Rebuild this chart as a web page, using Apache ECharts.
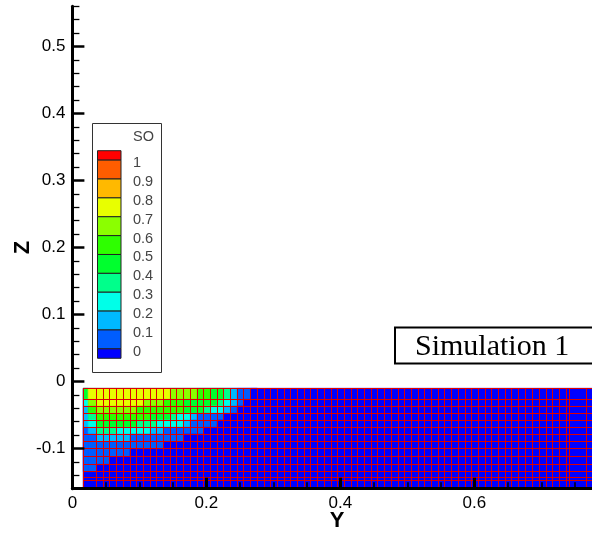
<!DOCTYPE html>
<html>
<head>
<meta charset="utf-8">
<script src="https://cdn.jsdelivr.net/npm/echarts@6/dist/echarts.min.js"></script>
<style>
  html, body { margin: 0; padding: 0; background: #ffffff; }
  #chart { width: 592px; height: 537px; }
</style>
</head>
<body>
<div id="chart"></div>
<script>
// Contour levels of SO and the colour of each band (below 0, 0-0.1, ..., above 1)
const soLevels = [0, 0.1, 0.2, 0.3, 0.4, 0.5, 0.6, 0.7, 0.8, 0.9, 1];
const bandColors = ['#0000FF', '#005DFF', '#00B9FF', '#00FFE8', '#00FF8B', '#00FF2E',
                    '#2EFF00', '#8BFF00', '#E8FF00', '#FFB900', '#FF5D00', '#FF0000'];

// Axis ticks
const yMajorTicks = [0, 0.2, 0.4, 0.6];
const yMinorTicks = [0.05, 0.1, 0.15, 0.25, 0.3, 0.35, 0.45, 0.5, 0.55, 0.65, 0.7, 0.75];
const zMajorTicks = [-0.1, 0, 0.1, 0.2, 0.3, 0.4, 0.5];
const zMinorTicks = [-0.14, -0.12, -0.08, -0.06, -0.04, -0.02, 0.02, 0.04, 0.06, 0.08,
                     0.12, 0.14, 0.16, 0.18, 0.22, 0.24, 0.26, 0.28, 0.32, 0.34, 0.36, 0.38,
                     0.42, 0.44, 0.46, 0.48, 0.52, 0.54, 0.56];

// Computational domain
const domainY = [0.016, 0.8];
const domainZ = [-0.16, -0.0101];

// Mesh lines
const meshY = [0.016, 0.036, 0.046, 0.056, 0.066, 0.076, 0.086, 0.096, 0.106, 0.116, 0.126,
  0.136, 0.146, 0.156, 0.166, 0.176, 0.186, 0.196, 0.206, 0.216, 0.226, 0.236, 0.246, 0.256,
  0.266, 0.276, 0.286, 0.296, 0.306, 0.316, 0.326, 0.336, 0.346, 0.356, 0.366, 0.376, 0.386,
  0.396, 0.406, 0.416, 0.426, 0.436, 0.446, 0.456, 0.466, 0.476, 0.486, 0.496, 0.506, 0.516,
  0.526, 0.536, 0.546, 0.556, 0.566, 0.576, 0.586, 0.596, 0.606, 0.616, 0.626, 0.636, 0.646,
  0.656, 0.666, 0.677, 0.687, 0.697, 0.707, 0.717, 0.727, 0.737, 0.742, 0.767, 0.792];
const meshZ = [-0.0101, -0.0266, -0.0366, -0.0475, -0.0575, -0.0684, -0.0784, -0.0896,
  -0.1007, -0.1122, -0.1236, -0.1346, -0.143, -0.148];

// SO field in the cells near the upper-left corner (rest of the domain is 0)
const cellY = [0.016, 0.0235, 0.036, 0.046, 0.056, 0.066, 0.076, 0.086, 0.096, 0.106, 0.116,
  0.126, 0.136, 0.146, 0.156, 0.166, 0.176, 0.186, 0.196, 0.206, 0.216, 0.226, 0.236, 0.246,
  0.256, 0.266, 0.276];
const cellZ = [-0.0101, -0.0266, -0.0366, -0.0475, -0.0575, -0.0684, -0.0784, -0.0896,
  -0.1007, -0.1122, -0.1236, -0.1346];
const soRows = [
  [0.45, 0.72, 0.75, 0.75, 0.75, 0.75, 0.75, 0.75, 0.75, 0.75, 0.75, 0.75, 0.75, 0.65, 0.65, 0.65, 0.65, 0.55, 0.55, 0.45, 0.45, 0.35, 0.15, 0.05, 0.05, 0],
  [0.25, 0.62, 0.72, 0.72, 0.72, 0.72, 0.72, 0.72, 0.72, 0.65, 0.65, 0.65, 0.55, 0.55, 0.55, 0.45, 0.45, 0.45, 0.45, 0.45, 0.35, 0.25, 0.15, 0.05, 0, 0],
  [0.15, 0.52, 0.65, 0.65, 0.65, 0.65, 0.65, 0.65, 0.55, 0.55, 0.55, 0.55, 0.55, 0.55, 0.55, 0.45, 0.45, 0.42, 0.35, 0.25, 0.25, 0.15, 0.05, 0, 0, 0],
  [0.15, 0.35, 0.55, 0.55, 0.55, 0.55, 0.55, 0.55, 0.55, 0.55, 0.45, 0.45, 0.45, 0.35, 0.25, 0.25, 0.15, 0.08, 0.05, 0.05, 0.05, 0, 0, 0, 0, 0],
  [0.15, 0.25, 0.45, 0.45, 0.45, 0.45, 0.45, 0.45, 0.35, 0.35, 0.35, 0.25, 0.25, 0.25, 0.22, 0.15, 0.05, 0.05, 0.05, 0.05, 0, 0, 0, 0, 0, 0],
  [0.05, 0.15, 0.35, 0.35, 0.35, 0.25, 0.25, 0.25, 0.25, 0.25, 0.15, 0.15, 0.05, 0.05, 0.05, 0.05, 0.05, 0.05, 0, 0, 0, 0, 0, 0, 0, 0],
  [0.05, 0.05, 0.15, 0.15, 0.15, 0.15, 0.15, 0.05, 0.05, 0.05, 0.05, 0.05, 0.05, 0.05, 0.05, 0, 0, 0, 0, 0, 0, 0, 0, 0, 0, 0],
  [0.05, 0.05, 0.05, 0.05, 0.05, 0.05, 0.05, 0.05, 0.05, 0.05, 0.05, 0.05, 0, 0, 0, 0, 0, 0, 0, 0, 0, 0, 0, 0, 0, 0],
  [0.05, 0.05, 0.05, 0.05, 0.05, 0.05, 0.05, 0, 0, 0, 0, 0, 0, 0, 0, 0, 0, 0, 0, 0, 0, 0, 0, 0, 0, 0],
  [0.05, 0.05, 0.05, 0.05, 0, 0, 0, 0, 0, 0, 0, 0, 0, 0, 0, 0, 0, 0, 0, 0, 0, 0, 0, 0, 0, 0],
  [0.05, 0.05, 0, 0, 0, 0, 0, 0, 0, 0, 0, 0, 0, 0, 0, 0, 0, 0, 0, 0, 0, 0, 0, 0, 0, 0]
];

function bandColor(v) {
  let k = 0;
  soLevels.forEach(function (l) { if (v > l) k++; });
  return bandColors[k];
}

// [y0, y1, z0, z1, SO]: whole domain first, then the cells
const cellData = [[domainY[0], domainY[1], domainZ[0], domainZ[1], 0]];
soRows.forEach(function (row, i) {
  row.forEach(function (v, j) {
    cellData.push([cellY[j], cellY[j + 1], cellZ[i + 1], cellZ[i], v]);
  });
});

// snap a 1px line onto the pixel grid
function crisp(p) { return Math.round(p - 0.5) + 0.5; }

const FONT = '"Liberation Sans", Arial, sans-serif';

// Legend (contour level key)
const legend = { x: 92, y: 123, w: 69, h: 249, swX: 97.5, swW: 23.5, swTop: 150.7, unit: 18.87 };
const legendEls = [{
  type: 'rect', shape: { x: legend.x + 0.5, y: legend.y + 0.5, width: legend.w, height: legend.h },
  style: { fill: '#ffffff', stroke: '#333333', lineWidth: 1 }
}, {
  type: 'text', x: 133, y: 137,
  style: { text: 'SO', font: '14.5px ' + FONT, fill: '#444444', verticalAlign: 'middle' }
}];
// swatches from the top band (above 1) down to the bottom band (below 0)
for (let k = bandColors.length - 1; k >= 0; k--) {
  const idx = bandColors.length - 1 - k;
  const top = idx === 0 ? legend.swTop : legend.swTop + legend.unit * (idx - 0.5);
  const h = (idx === 0 || k === 0) ? legend.unit / 2 : legend.unit;
  legendEls.push({
    type: 'rect', shape: { x: legend.swX, y: top, width: legend.swW, height: h },
    style: { fill: bandColors[k], stroke: '#222222', lineWidth: 1 }
  });
}
soLevels.slice().reverse().forEach(function (l, i) {
  legendEls.push({
    type: 'text', x: 133, y: legend.swTop + legend.unit * (i + 0.5) + 3,
    style: { text: String(l), font: '14.5px ' + FONT, fill: '#444444', verticalAlign: 'middle' }
  });
});

const chart = echarts.init(document.getElementById('chart'), null, { renderer: 'canvas' });

const axisCommon = {
  type: 'value',
  splitLine: { show: false },
  axisPointer: { show: false },
  nameMoveOverlap: false,
  z: 10
};

chart.setOption({
  animation: false,
  backgroundColor: '#ffffff',
  grid: { left: 72.4, top: 6.3, width: 529.3, height: 482.4, containLabel: false, outerBoundsMode: 'none' },
  xAxis: [
    Object.assign({}, axisCommon, {
      min: 0, max: 0.79, position: 'bottom',
      name: 'Y', nameLocation: 'middle', nameGap: 21,
      nameTextStyle: { fontFamily: FONT, fontWeight: 'bold', fontSize: 22, color: '#000' },
      axisLine: { onZero: false, lineStyle: { color: '#000', width: 3 } },
      axisTick: { inside: true, length: 11, customValues: yMajorTicks, lineStyle: { color: '#000', width: 3 } },
      axisLabel: { customValues: yMajorTicks, fontFamily: FONT, fontSize: 17, color: '#000', margin: 6 }
    }),
    Object.assign({}, axisCommon, {
      min: 0, max: 0.79, position: 'bottom',
      axisLine: { show: false, onZero: false },
      axisTick: { inside: true, length: 6.5, customValues: yMinorTicks, lineStyle: { color: '#000', width: 1.5 } },
      axisLabel: { show: false }
    })
  ],
  yAxis: [
    Object.assign({}, axisCommon, {
      min: -0.16, max: 0.56, position: 'left',
      name: 'Z', nameLocation: 'middle', nameGap: 38,
      nameTextStyle: { fontFamily: FONT, fontWeight: 'bold', fontSize: 22, color: '#000' },
      axisLine: { onZero: false, lineStyle: { color: '#000', width: 3 } },
      axisTick: { inside: true, length: 12, customValues: zMajorTicks, lineStyle: { color: '#000', width: 2.5 } },
      axisLabel: { customValues: zMajorTicks, fontFamily: FONT, fontSize: 17, color: '#000', margin: 7 }
    }),
    Object.assign({}, axisCommon, {
      min: -0.16, max: 0.56, position: 'left',
      axisLine: { show: false, onZero: false },
      axisTick: { inside: true, length: 7, customValues: zMinorTicks, lineStyle: { color: '#000', width: 1.3 } },
      axisLabel: { show: false }
    })
  ],
  series: [
    {
      name: 'SO', type: 'custom', clip: true, z: 2,
      xAxisIndex: 0, yAxisIndex: 0,
      encode: { x: [0, 1], y: [2, 3] },
      data: cellData,
      renderItem: function (params, api) {
        const p0 = api.coord([api.value(0), api.value(3)]);
        const p1 = api.coord([api.value(1), api.value(2)]);
        const c = bandColor(api.value(4));
        return {
          type: 'rect',
          shape: { x: p0[0], y: p0[1], width: p1[0] - p0[0], height: p1[1] - p0[1] },
          style: { fill: c, stroke: c, lineWidth: 0.6 }
        };
      }
    },
    {
      name: 'mesh-y', type: 'custom', clip: true, z: 3,
      xAxisIndex: 0, yAxisIndex: 0,
      encode: { x: 0 },
      data: meshY.map(function (v) { return [v]; }),
      renderItem: function (params, api) {
        const a = api.coord([api.value(0), domainZ[0]]);
        const b = api.coord([api.value(0), domainZ[1]]);
        return {
          type: 'line', shape: { x1: crisp(a[0]), y1: a[1], x2: crisp(b[0]), y2: b[1] },
          style: { stroke: '#dd0000', lineWidth: 1 }
        };
      }
    },
    {
      name: 'mesh-z', type: 'custom', clip: true, z: 3,
      xAxisIndex: 0, yAxisIndex: 0,
      encode: { y: 0 },
      data: meshZ.map(function (v) { return [v]; }),
      renderItem: function (params, api) {
        const a = api.coord([domainY[0], api.value(0)]);
        const b = api.coord([domainY[1], api.value(0)]);
        return {
          type: 'line', shape: { x1: a[0], y1: crisp(a[1]), x2: b[0], y2: crisp(b[1]) },
          style: { stroke: '#dd0000', lineWidth: 1 }
        };
      }
    }
  ],
  graphic: [{
    type: 'group', z: 100,
    children: legendEls.concat([{
      type: 'rect', shape: { x: 395, y: 327.5, width: 220, height: 36 },
      style: { fill: '#ffffff', stroke: '#000000', lineWidth: 2 }
    }, {
      type: 'text', x: 415, y: 347,
      style: { text: 'Simulation 1', font: '30px "Liberation Serif", "Times New Roman", serif', fill: '#000', verticalAlign: 'middle' }
    }])
  }]
});
</script>
</body>
</html>
